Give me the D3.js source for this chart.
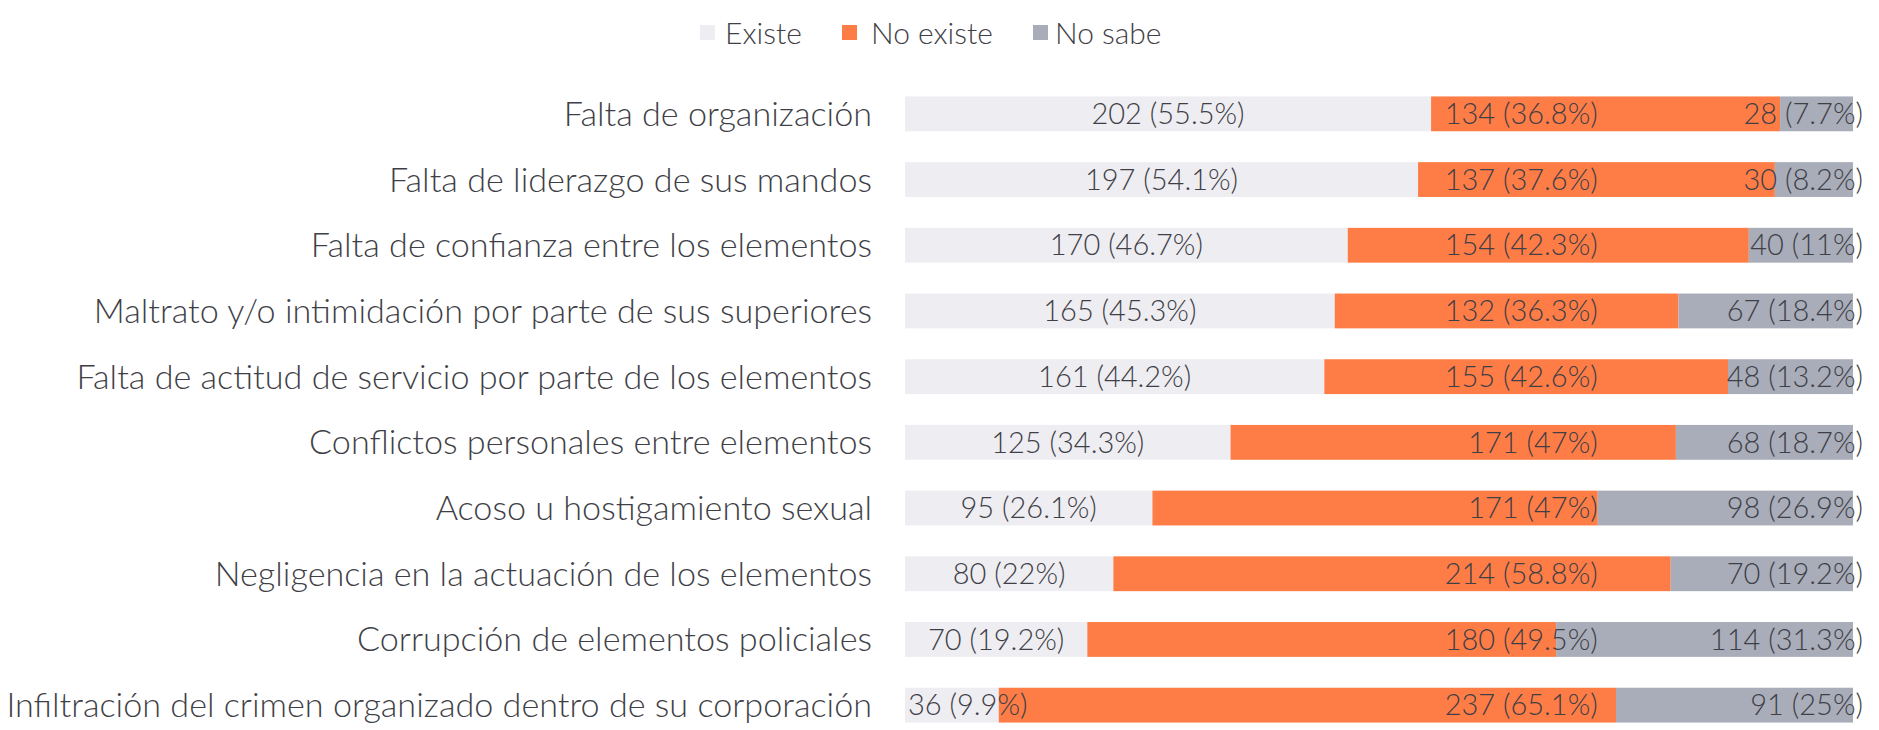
<!DOCTYPE html>
<html>
<head>
<meta charset="utf-8">
<script src="https://cdn.jsdelivr.net/npm/d3@7"></script>
<style>
  html, body { margin: 0; padding: 0; background: #ffffff; }
  svg { display: block; }
  text { font-family: Lato, "Open Sans", sans-serif; fill: #3f3f47; font-weight: 300; }
</style>
</head>
<body>
<svg id="chart" width="1879" height="730"></svg>
<script>
// ---- Data ----
const categories = [
  "Falta de organización",
  "Falta de liderazgo de sus mandos",
  "Falta de confianza entre los elementos",
  "Maltrato y/o intimidación por parte de sus superiores",
  "Falta de actitud de servicio por parte de los elementos",
  "Conflictos personales entre elementos",
  "Acoso u hostigamiento sexual",
  "Negligencia en la actuación de los elementos",
  "Corrupción de elementos policiales",
  "Infiltración del crimen organizado dentro de su corporación"
];
const seriesNames = ["Existe", "No existe", "No sabe"];
const existe    = [202, 197, 170, 165, 161, 125, 95, 80, 70, 36];
const noExiste  = [134, 137, 154, 132, 155, 171, 171, 214, 180, 237];
const noSabe    = [28, 30, 40, 67, 48, 68, 98, 70, 114, 91];
const existePct   = ["55.5%", "54.1%", "46.7%", "45.3%", "44.2%", "34.3%", "26.1%", "22%", "19.2%", "9.9%"];
const noExistePct = ["36.8%", "37.6%", "42.3%", "36.3%", "42.6%", "47%", "47%", "58.8%", "49.5%", "65.1%"];
const noSabePct   = ["7.7%", "8.2%", "11%", "18.4%", "13.2%", "18.7%", "26.9%", "19.2%", "31.3%", "25%"];
const colors = ["#eeedf2", "#fe7d46", "#a9adb9"];

// ---- Layout ----
const svg = d3.select("#chart");
const total = d3.max(categories.map((c, i) => existe[i] + noExiste[i] + noSabe[i]));
const x = d3.scaleLinear().domain([0, total]).range([905, 1853]);
const y = d3.scaleBand().domain(categories).range([81, 738]).paddingInner(0.47).paddingOuter(0.235);

const rows = categories.map((c, i) => {
  const vals = [existe[i], noExiste[i], noSabe[i]];
  const pcts = [existePct[i], noExistePct[i], noSabePct[i]];
  let acc = 0;
  const segs = vals.map((v, k) => {
    const s = { k, x0: acc, x1: acc + v, v, pct: pcts[k], cat: c };
    acc += v;
    return s;
  });
  return { cat: c, segs };
});

// bars
const g = svg.append("g");
rows.forEach(r => {
  g.selectAll(null).data(r.segs).enter().append("rect")
    .attr("x", d => x(d.x0))
    .attr("y", y(r.cat))
    .attr("width", d => x(d.x1) - x(d.x0))
    .attr("height", y.bandwidth())
    .attr("fill", d => colors[d.k]);
});

// category labels (fit longest label to available width)
const catG = svg.append("g");
const catLabels = catG.selectAll("text").data(categories).enter().append("text")
  .attr("x", 872)
  .attr("y", d => y(d) + y.bandwidth() / 2)
  .attr("dy", "0.35em")
  .attr("text-anchor", "end")
  .style("font-size", "30px")
  .text(d => d);
let maxW = 0;
catLabels.each(function () { maxW = Math.max(maxW, this.getComputedTextLength()); });
const catSize = 30 * 866 / maxW;
catLabels.style("font-size", catSize + "px");

// value labels
const valSize = 29;
const orangeLabelEnd = x(266);
const grayLabelEnd = x(total) + 10;
rows.forEach(r => {
  r.segs.forEach(s => {
    const t = svg.append("text")
      .attr("y", y(r.cat) + y.bandwidth() / 2)
      .attr("dy", "0.35em")
      .style("font-size", valSize + "px")
      .text(`${s.v} (${s.pct})`);
    const w = t.node().getComputedTextLength();
    if (s.k === 0) {
      const cx = Math.max((x(s.x0) + x(s.x1)) / 2, x(0) + w / 2 + 3);
      t.attr("x", cx).attr("text-anchor", "middle");
    } else if (s.k === 1) {
      t.attr("x", orangeLabelEnd).attr("text-anchor", "end");
    } else {
      t.attr("x", grayLabelEnd).attr("text-anchor", "end");
    }
  });
});

// legend
const legendItems = [
  { name: seriesNames[0], sx: 700, tx: 725 },
  { name: seriesNames[1], sx: 842, tx: 871 },
  { name: seriesNames[2], sx: 1033, tx: 1055 }
];
const lg = svg.append("g");
legendItems.forEach((d, i) => {
  lg.append("rect").attr("x", d.sx).attr("y", 25).attr("width", 15).attr("height", 15).attr("fill", colors[i]);
  lg.append("text").attr("x", d.tx).attr("y", 33).attr("dy", "0.35em")
    .style("font-size", "30px").text(d.name);
});
</script>
</body>
</html>
